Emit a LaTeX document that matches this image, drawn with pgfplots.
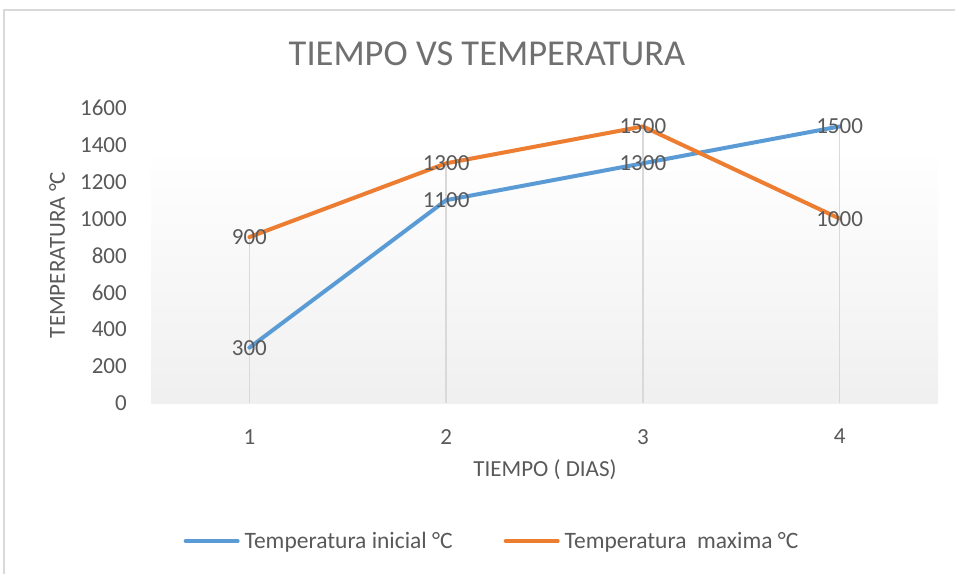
\documentclass[border=0pt]{standalone}
\usepackage{fontspec}
\setmainfont{Carlito}
\usepackage{pgfplots}
\pgfplotsset{compat=1.18}
\definecolor{txt}{HTML}{595959}
\definecolor{ttl}{HTML}{707070}
\definecolor{bl}{HTML}{5B9BD5}
\definecolor{og}{HTML}{ED7D31}
\definecolor{gridc}{HTML}{D9D9D9}
\begin{document}
\begin{tikzpicture}[x=1pt,y=1pt]
\path[use as bounding box] (0,0) rectangle (955,574);
\draw[gridc, line width=1.2pt] (4,0) -- (4,564) -- (955,564);
\node[ttl, font=\fontsize{36.5}{40}\selectfont, inner sep=0pt] at (487,520) {TIEMPO VS TEMPERATURA};
\begin{axis}[
  at={(151pt,171pt)}, anchor=south west,
  scale only axis, width=787pt, height=295pt,
  xmin=0.5, xmax=4.5, ymin=0, ymax=1600,
  xtick={1,2,3,4}, ytick={0,200,...,1600},
  axis x line*=bottom, axis y line*=left,
  x axis line style={gridc, line width=1.5pt},
  y axis line style={draw=none},
  major tick length=0pt,
  /pgf/number format/1000 sep={},
  /pgf/number format/assume math mode=true,
  tick label style={txt, font=\fontsize{23}{27}\selectfont},
  xticklabel style={anchor=north, inner sep=0pt, yshift=-26pt},
  yticklabel style={anchor=east, inner sep=0pt, xshift=-24pt},
  xlabel={TIEMPO ( DIAS)},
  ylabel={TEMPERATURA °C},
  label style={txt, font=\fontsize{23}{27}\selectfont, inner sep=0pt},
  xlabel style={at={(axis description cs:0.5006,-0.227)}, anchor=center},
  ylabel style={at={(axis description cs:-0.1194,0.5017)}, anchor=center},
  legend columns=2,
  legend style={at={(0.432,-0.468)}, anchor=center, draw=none, fill=none,
    font=\fontsize{23.5}{27}\selectfont, text=txt,
    nodes={inner sep=0pt},
    /tikz/every even column/.append style={column sep=51pt},
    /tikz/every odd column/.append style={column sep=5pt}},
  legend image code/.code={\draw[#1] (0pt,0pt) -- (52pt,0pt);},
]
\fill[top color=white, bottom color=black!6] (axis cs:0.5,0) rectangle (axis cs:4.5,1390);
\addplot[ycomb, gridc, line width=1.6pt, forget plot] coordinates {(1,900)(2,1300)(3,1500)(4,1500)};
\addplot[bl, line width=4pt, line cap=round, line join=round,
  nodes near coords, every node near coord/.append style={anchor=center, txt, font=\fontsize{23}{27}\selectfont, inner sep=0pt}]
  coordinates {(1,300)(2,1100)(3,1300)(4,1500)};
\addlegendentry{Temperatura inicial °C}
\addplot[og, line width=4pt, line cap=round, line join=round,
  nodes near coords, every node near coord/.append style={anchor=center, txt, font=\fontsize{23}{27}\selectfont, inner sep=0pt}]
  coordinates {(1,900)(2,1300)(3,1500)(4,1000)};
\addlegendentry{Temperatura\ \ maxima °C}
\end{axis}
\end{tikzpicture}
\end{document}
